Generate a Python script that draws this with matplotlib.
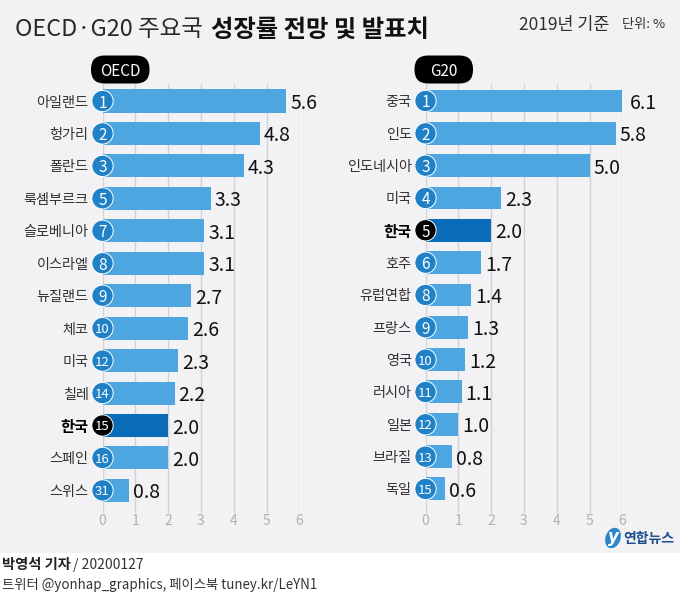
import matplotlib
matplotlib.use('Agg')
import matplotlib.pyplot as plt
from matplotlib.patches import Ellipse, FancyBboxPatch, Rectangle

plt.rcParams['font.family'] = ['Noto Sans CJK KR', 'DejaVu Sans']

WIDTH, HEIGHT = 680, 602

oecd_countries = ['아일랜드', '헝가리', '폴란드', '룩셈부르크', '슬로베니아', '이스라엘', '뉴질랜드',
                  '체코', '미국', '칠레', '한국', '스페인', '스위스']
oecd_ranks = [1, 2, 3, 5, 7, 8, 9, 10, 12, 14, 15, 16, 31]
oecd_values = [5.6, 4.8, 4.3, 3.3, 3.1, 3.1, 2.7, 2.6, 2.3, 2.2, 2.0, 2.0, 0.8]

g20_countries = ['중국', '인도', '인도네시아', '미국', '한국', '호주', '유럽연합',
                 '프랑스', '영국', '러시아', '일본', '브라질', '독일']
g20_ranks = [1, 2, 3, 4, 5, 6, 8, 9, 10, 11, 12, 13, 15]
g20_values = [6.1, 5.8, 5.0, 2.3, 2.0, 1.7, 1.4, 1.3, 1.2, 1.1, 1.0, 0.8, 0.6]

x_ticks = [0, 1, 2, 3, 4, 5, 6]

BAR = '#4da6e0'
BAR_KOREA = '#0a6cb8'
CIRCLE = '#2181c6'
BACKGROUND = '#f2f2f4'


def add_panel_axes(fig, left, right, step):
    # gridlines run from y=84 to y=513, first bar is centred on y=101
    ax = fig.add_axes([left / WIDTH, 1 - 513 / HEIGHT, (right - left) / WIDTH, (513 - 84) / HEIGHT])
    ax.set_xlim(0, 6)
    ax.set_ylim((513 - 101) / step, (84 - 101) / step)
    ax.patch.set_alpha(0)
    for spine in ax.spines.values():
        spine.set_visible(False)
    return ax


def plot_panel(ax, countries, ranks, values):
    ys = list(range(len(values)))
    colors = [BAR_KOREA if c == '한국' else BAR for c in countries]
    ax.barh(ys, values, height=0.71, color=colors, zorder=2)
    ax.set_axisbelow(True)
    ax.grid(axis='x', color='#d2d2d5', linewidth=1.0, zorder=1)
    ax.set_xticks(x_ticks)
    ax.tick_params(axis='x', length=0, pad=0.5, labelsize=10, labelcolor='#b0b0b0')
    for label in ax.get_xticklabels():
        label.set_fontweight('light')
    ax.set_yticks(ys)
    ax.set_yticklabels(countries, fontsize=10.2, color='#303030')
    ax.tick_params(axis='y', length=0, pad=10)
    for label, country in zip(ax.get_yticklabels(), countries):
        if country == '한국':
            label.set_fontweight('bold')
            label.set_fontsize(11)
            label.set_color('black')

    circle_colors = ['black' if c == '한국' else CIRCLE for c in countries]
    ax.scatter([0] * len(ys), ys, s=235, c=circle_colors, edgecolors='white',
               linewidths=0.7, zorder=3, clip_on=False)
    for y, rank, value in zip(ys, ranks, values):
        # two digit ranks have to fit inside the circle
        rank_size = 9.5 if rank >= 10 else 11
        ax.text(0, y, str(rank), color='white', fontsize=rank_size, ha='center', va='center_baseline',
                zorder=4, clip_on=False)
        ax.text(value + 0.12, y, f'{value:.1f}', color='#111111', fontsize=14, ha='left',
                va='center_baseline', zorder=4, clip_on=False)


def add_decorations(fig):
    # full-figure overlay in pixel coordinates for the panel, pills, title and logo
    bg = fig.add_axes([0, 0, 1, 1], zorder=-1)
    bg.set_xlim(0, WIDTH)
    bg.set_ylim(HEIGHT, 0)
    bg.axis('off')
    bg.add_patch(Rectangle((0, 0), WIDTH, 552.5, color=BACKGROUND, linewidth=0))

    for x0, x1, name in [(91.5, 149, 'OECD'), (415, 472.5, 'G20')]:
        bg.add_patch(FancyBboxPatch((x0 + 13, 56 + 13), x1 - x0 - 26, 1,
                                    boxstyle='round,pad=13.5', color='black', linewidth=0, zorder=5))
        bg.text((x0 + x1) / 2, 69.5, name, color='white', fontsize=11, fontweight='medium',
                ha='center', va='center_baseline', zorder=6)

    bg.text(15, 27, 'OECD·G20 주요국', fontsize=16.9, fontweight='light', color='#2a2a2a',
            ha='left', va='center_baseline')
    bg.text(211, 27, '성장률 전망 및 발표치', fontsize=17.5, fontweight='bold', color='#111111',
            ha='left', va='center_baseline')
    bg.text(609, 23, '2019년 기준', fontsize=12.5, fontweight='light', color='#303030',
            ha='right', va='center_baseline')
    bg.text(665, 23, '단위: %', fontsize=9.5, fontweight='light', color='#303030', style='italic',
            ha='right', va='center_baseline')

    bg.text(2, 564, '박영석 기자', fontsize=10.3, fontweight='bold', color='#222222',
            ha='left', va='center_baseline')
    bg.text(73, 564, '/ 20200127', fontsize=10, fontweight='light', color='#333333',
            ha='left', va='center_baseline')
    bg.text(2, 584, '트위터 @yonhap_graphics, 페이스북 tuney.kr/LeYN1', fontsize=9.6, fontweight='light',
            color='#333333', ha='left', va='center_baseline')

    bg.add_patch(Ellipse((613, 538), 15, 21, angle=20, color='#2b86c9', linewidth=0, zorder=5))
    bg.text(613, 537, 'y', color='white', fontsize=12, style='italic', fontweight='bold',
            ha='center', va='center', zorder=6, family=['DejaVu Sans'])
    bg.text(623, 538, '연합뉴스', color='#1d4f91', fontsize=10, fontweight='bold',
            ha='left', va='center_baseline')


def main():
    fig = plt.figure(figsize=(WIDTH / 100, HEIGHT / 100), dpi=100, facecolor='white')
    add_decorations(fig)
    ax_oecd = add_panel_axes(fig, 102.5, 299.3, 32.45)
    plot_panel(ax_oecd, oecd_countries, oecd_ranks, oecd_values)
    ax_g20 = add_panel_axes(fig, 425.5, 622.3, 32.33)
    plot_panel(ax_g20, g20_countries, g20_ranks, g20_values)
    fig.savefig('out.png', dpi=100)


if __name__ == '__main__':
    main()
